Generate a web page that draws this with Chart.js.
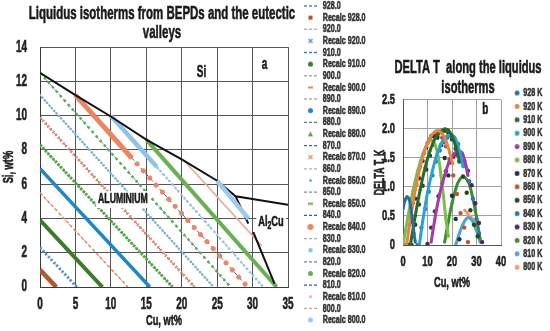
<!DOCTYPE html>
<html>
<head>
<meta charset="utf-8">
<script src="https://cdn.jsdelivr.net/npm/chart.js@4.4.1/dist/chart.umd.min.js"></script>
<style>
  html, body { margin: 0; padding: 0; background: #fff; }
  #wrap { position: relative; width: 550px; height: 331px; }
  #left { position: absolute; left: 0; top: 0; width: 372px; height: 331px; }
  #right { position: absolute; left: 372px; top: 0; width: 178px; height: 331px; }
</style>
</head>
<body>
<div id="wrap">
  <div id="left"><canvas id="isoChart"></canvas></div>
  <div id="right"><canvas id="deltaChart"></canvas></div>
</div>
<script>
const FONT = "'Liberation Sans', Arial, sans-serif";
Chart.defaults.font.family = FONT;
Chart.defaults.font.weight = 'bold';
Chart.defaults.color = '#222';
Chart.defaults.animation = false;

const temps = [928, 920, 910, 900, 890, 880, 870, 860, 850, 840, 830, 820, 810, 800];

// panel a: isotherms, [Cu wt%, Si wt%]
const isoLines = [
  [[0, 1.0], [2.3, 0]],
  [[0, 2.3], [5.2, 0]],
  [[0, 3.9], [8.8, 0]],
  [[0, 5.5], [12.4, 0]],
  [[0, 6.9], [15.5, 0]],
  [[0, 8.3], [18.7, 0]],
  [[0, 9.9], [21.8, 0]],
  [[0, 11.2], [24.5, 0]],
  [[0, 12.5], [26.9, 0]],
  [[5, 11.2], [12.8, 7.6], [29.3, 0]],
  [[10, 10], [16.5, 7.0], [31.5, 0]],
  [[15, 8.6], [33.4, 0]],
  [[20.3, 7.4], [31.3, 2.4]],
  [[25, 6.2], [29.4, 4.0]]
];

// eutectic valleys
const valleyMain = [[0, 12.5], [5, 11.2], [10, 9.95], [15, 8.6], [20, 7.45], [25, 6.2], [27.6, 5.3], [35, 4.8]];
const valleyUpper = [[27.6, 5.3], [29.4, 3.7]];
const valleyLower = [[30.1, 3.2], [33.1, 0.2]];

// panel b: delta T along each isotherm, [Cu wt%, K]
const dtCurves = [
  [[0, 0.62], [0.8, 0.77], [1.6, 0.83], [2.4, 0.8], [3.2, 0.64], [3.9, 0.42], [4.5, 0.2], [5, 0.05]],
  [[1.5, 0], [3, 0.45], [5, 0.95], [7, 1.35], [9, 1.65], [11, 1.85], [13, 1.95], [14.5, 1.97], [16, 1.92], [17.5, 1.8], [19, 1.6], [20.3, 1.4]],
  [[3, 0], [5, 0.5], [7, 0.95], [9, 1.33], [11, 1.62], [13, 1.83], [15, 1.95], [17, 2.0], [18.5, 1.98], [20, 1.88], [21.5, 1.7], [23, 1.45]],
  [[6.7, 0], [8, 0.4], [10, 0.9], [12, 1.28], [14, 1.58], [16, 1.78], [18, 1.88], [20, 1.9], [21.5, 1.82], [23, 1.62], [24.5, 1.35]],
  [[11.5, 0.05], [13, 0.45], [15, 0.88], [17, 1.2], [19, 1.45], [21, 1.58], [23, 1.62], [24.5, 1.55], [25.5, 1.4], [26.5, 1.2]],
  [[0, 0], [2, 0.48], [4, 0.92], [6, 1.28], [8, 1.56], [10, 1.74], [11.5, 1.8], [13, 1.74], [14.5, 1.5], [15.5, 1.2], [16.5, 0.85], [17.5, 0.45], [18.5, 0.15]],
  [[2, 0], [3.5, 0.4], [5, 0.8], [6.5, 1.15], [8, 1.45], [9.5, 1.68], [11, 1.82], [12.5, 1.88], [14, 1.85], [15.5, 1.72], [17, 1.5], [18.5, 1.2], [20, 0.85], [21.5, 0.45], [23, 0.1]],
  [[1, 0], [2.5, 0.35], [4, 0.72], [5.5, 1.05], [7, 1.35], [8.5, 1.58], [10, 1.76], [11.5, 1.88], [13, 1.93], [14.5, 1.92], [16, 1.85], [17.5, 1.7], [19, 1.48], [20.5, 1.2], [22, 0.88], [23.5, 0.55], [25, 0.3], [26.5, 0.05]],
  [[3.5, 0], [5, 0.35], [6.5, 0.7], [8, 1.02], [9.5, 1.3], [11, 1.54], [12.5, 1.73], [14, 1.87], [15.5, 1.95], [17, 1.97], [18.5, 1.93], [20, 1.82], [21.5, 1.66], [23, 1.44], [24.5, 1.18], [26, 0.9], [27.5, 0.6], [29, 0.35], [30.5, 0.15]],
  [[6, 0], [7.5, 0.3], [9, 0.62], [10.5, 0.92], [12, 1.2], [13.5, 1.44], [15, 1.63], [16.5, 1.77], [18, 1.85], [19.5, 1.88], [21, 1.84], [22.5, 1.74], [24, 1.58], [25.5, 1.36], [27, 1.1], [28.5, 0.8], [30, 0.45], [31, 0.2]],
  [[10, 0.02], [11.5, 0.3], [13, 0.58], [14.5, 0.84], [16, 1.07], [17.5, 1.27], [19, 1.42], [20.5, 1.52], [22, 1.56], [23.5, 1.54], [25, 1.45], [26.5, 1.28], [28, 1.03], [29.5, 0.72], [31, 0.38], [32.3, 0.05]],
  [[17, 0.05], [18.5, 0.4], [20, 0.72], [21.5, 0.96], [23, 1.12], [24.7, 1.17], [26.5, 1.1], [28, 0.9], [29.5, 0.6], [30.5, 0.35], [31.5, 0.1]],
  [[21.5, 0], [23, 0.2], [24.5, 0.36], [26, 0.46], [27.5, 0.46], [29, 0.35], [30.5, 0.18], [31.5, 0.05]],
  [[25.2, 0.6], [26.2, 0.55], [27.2, 0.5], [28.2, 0.46], [29.2, 0.42], [30, 0.4]]
];

// styles
const plainColors = ['#5a7fc6', '#c9b0ab', '#4a74bf', '#b4aaa8', '#aeaaa9', '#4f79c1', '#3f62ae', '#b8aeac', '#6a8ecf', '#3a56a6', '#a9a9a9', '#5b84c7', '#3853a3', '#b0aead'];
const recalcColors = ['#b5552c', '#4e93cf', '#3b7b2b', '#e9845c', '#1e87c7', '#55a83f', '#ea8866', '#6db1de', '#62aa48', '#ec8660', '#8dc2ea', '#68b052', '#f0ab9a', '#9ccaee'];
const recalcWidth = [4.5, 3, 4, 1.5, 3.5, 3, 3, 2.5, 2.5, 5, 2.5, 4, 1.6, 4.5];
const recalcDash = [[], [2, 2], [], [3, 2.5], [], [2.5, 1.2], [1.8, 2], [0.01, 3.5], [2.5, 3.5], [], [2, 2.5], [], [], []];
const recalcCap = ['butt', 'butt', 'butt', 'butt', 'butt', 'butt', 'butt', 'round', 'butt', 'butt', 'butt', 'butt', 'butt', 'butt'];
const recalcOrder = [1, 1, 1, 1, 1, 1, 1, 1, 1, 1, 1, 1, 1, -1];
const recalcMark = ['rect', 'cross', 'circle', 'dash', 'circle', 'triangle', 'cross', 'circle', 'dash', 'circle', 'rect', 'circle', 'circle', 'circle'];
const recalcMarkSize = [4, 4, 5, 5, 5, 5, 4, 3, 5, 6, 4, 5, 3, 5];
const dtColors = ['#2d6c97', '#e8843f', '#2a6a2c', '#29a2da', '#a43ca8', '#7bc046', '#1a3446', '#b95a2b', '#1e4b25', '#2c77b0', '#591e63', '#3f8d32', '#48a6dc', '#f19e6c'];
const dtDense = [true, true, true, true, true, true, false, false, false, false, false, true, true, true];

// the reference uses a heavy condensed face; squeeze canvas text horizontally and thicken it a little
const SQUEEZE = 0.62;
(function () {
  const proto = CanvasRenderingContext2D.prototype;
  const fill = proto.fillText, stroke = proto.strokeText, measure = proto.measureText;
  proto.fillText = function (text, x, y, maxWidth) {
    const k = this.canvas._squeeze || 1;
    if (k === 1) return maxWidth === undefined ? fill.call(this, text, x, y) : fill.call(this, text, x, y, maxWidth);
    this.save();
    this.translate(x, y);
    this.scale(k, 1);
    this.setLineDash([]);
    this.lineWidth = 0.6;
    this.lineJoin = 'round';
    this.strokeStyle = this.fillStyle;
    if (maxWidth === undefined) { fill.call(this, text, 0, 0); stroke.call(this, text, 0, 0); }
    else { fill.call(this, text, 0, 0, maxWidth / k); stroke.call(this, text, 0, 0, maxWidth / k); }
    this.restore();
  };
  proto.measureText = function (text) {
    const m = measure.call(this, text);
    const k = this.canvas._squeeze || 1;
    if (k === 1) return m;
    return {
      width: m.width * k,
      actualBoundingBoxLeft: m.actualBoundingBoxLeft * k,
      actualBoundingBoxRight: m.actualBoundingBoxRight * k,
      actualBoundingBoxAscent: m.actualBoundingBoxAscent,
      actualBoundingBoxDescent: m.actualBoundingBoxDescent
    };
  };
})();

function markIcon(shape, color, size) {
  const c = document.createElement('canvas');
  c.width = size + 2; c.height = size + 2;
  const g = c.getContext('2d');
  const m = (size + 2) / 2, r = size / 2;
  g.fillStyle = color; g.strokeStyle = color; g.lineWidth = 1.3;
  g.beginPath();
  if (shape === 'circle') { g.arc(m, m, r, 0, Math.PI * 2); g.fill(); }
  else if (shape === 'rect') { g.fillRect(m - r, m - r, size, size); }
  else if (shape === 'triangle') { g.moveTo(m, m - r); g.lineTo(m + r, m + r); g.lineTo(m - r, m + r); g.closePath(); g.fill(); }
  else if (shape === 'cross') { g.moveTo(m - r, m - r); g.lineTo(m + r, m + r); g.moveTo(m + r, m - r); g.lineTo(m - r, m + r); g.stroke(); }
  else if (shape === 'dash') { g.fillRect(m - r, m - 1, size, 2); }
  return c;
}

const toXY = arr => arr.map(([x, y]) => ({ x, y }));

// 840 and 830: dense near the valley, sparse further down
function segmentFor(i) {
  if (i === 9) return {
    borderDash: c => c.p0DataIndex > 0 ? [0.01, 9.5] : undefined,
    borderCapStyle: c => c.p0DataIndex > 0 ? 'round' : undefined
  };
  if (i === 10) return {
    borderDash: c => c.p0DataIndex === 0 ? [] : undefined,
    borderWidth: c => c.p0DataIndex === 0 ? 4.5 : undefined
  };
  return {};
}

const boxTweak = {
  id: 'boxTweak',
  beforeLayout(chart, args, opts) {
    const lg = chart.legend;
    if (lg && !lg._fixedWidth) {
      const fit = lg.fit;
      lg.fit = function () { fit.call(this); this.width = opts.legendWidth; };
      lg._fixedWidth = true;
    }
  },
  afterLayout(chart, args, opts) {
    const lg = chart.legend;
    lg.left += opts.legendDx;
    lg.right += opts.legendDx;
    lg.top = opts.legendTop;
    const tb = chart.titleBlock;
    tb.left += opts.titleDx;
    tb.right += opts.titleDx;
  }
};

const notesPlugin = {
  id: 'notes',
  afterDatasetsDraw(chart, args, opts) {
    const { ctx, scales } = chart;
    ctx.save();
    ctx.textBaseline = 'middle';
    ctx.textAlign = 'left';
    for (const n of opts.items) {
      const px = scales.x.getPixelForValue(n.x);
      const py = scales.y.getPixelForValue(n.y);
      const big = `bold ${n.size}px ${FONT}`;
      const small = `bold ${Math.round(n.size * 0.7)}px ${FONT}`;
      const widths = n.parts.map(p => { ctx.font = p.sub ? small : big; return ctx.measureText(p.t).width; });
      const total = widths.reduce((a, b) => a + b, 0);
      let cx = px - total / 2;
      if (n.bg) {
        ctx.fillStyle = '#fff';
        ctx.fillRect(cx - 2, py - n.size * 0.6, total + 4, n.size * 1.2);
      }
      ctx.fillStyle = '#1a1a1a';
      n.parts.forEach((p, k) => {
        ctx.font = p.sub ? small : big;
        ctx.fillText(p.t, cx, p.sub ? py + n.size * 0.3 : py);
        cx += widths[k];
      });
    }
    ctx.restore();
  }
};

// ---------- panel a ----------
const isoSets = [];
temps.forEach((t, i) => {
  isoSets.push({
    label: t.toFixed(1),
    data: toXY(isoLines[i]),
    showLine: true,
    borderColor: plainColors[i],
    borderWidth: 1,
    borderDash: [4, 3],
    pointRadius: 0,
    order: 2
  });
  isoSets.push({
    label: 'Recalc ' + t.toFixed(1),
    data: toXY(isoLines[i]),
    showLine: true,
    borderColor: recalcColors[i],
    backgroundColor: recalcColors[i],
    borderWidth: recalcWidth[i],
    borderDash: recalcDash[i],
    borderCapStyle: recalcCap[i],
    segment: segmentFor(i),
    pointRadius: 0,
    order: recalcOrder[i]
  });
});
[valleyMain, valleyUpper, valleyLower].forEach(v => {
  isoSets.push({ label: '', data: toXY(v), showLine: true, borderColor: '#111', borderWidth: 2, pointRadius: 0, order: 0 });
});

const isoCanvas = document.getElementById('isoChart');
isoCanvas._squeeze = SQUEEZE;
new Chart(isoCanvas, {
  type: 'scatter',
  data: { datasets: isoSets },
  plugins: [boxTweak, notesPlugin],
  options: {
    responsive: true,
    maintainAspectRatio: false,
    layout: { padding: 0 },
    scales: {
      x: {
        type: 'linear', min: 0, max: 35,
        ticks: { stepSize: 5, padding: 8.4, font: { size: 16 }, color: '#222' },
        grid: { color: '#555', drawTicks: false },
        border: { color: '#3a3a3a' },
        title: { display: true, text: 'Cu, wt%', font: { size: 15 }, padding: { top: 0, bottom: 1 }, color: '#222' },
        afterFit: s => { s.height = 44; }
      },
      y: {
        type: 'linear', min: 0, max: 14,
        ticks: { stepSize: 2, padding: 13, font: { size: 16 }, color: '#222' },
        grid: { color: '#555', drawTicks: false },
        border: { color: '#3a3a3a' },
        title: { display: true, text: 'Si, wt%', font: { size: 15 }, padding: { top: 0, bottom: 0 }, color: '#222' },
        afterFit: s => { s.width = 40; }
      }
    },
    plugins: {
      title: {
        display: true,
        text: ['Liquidus isotherms from BEPDs and the eutectic', 'valleys'],
        font: { size: 18.5, lineHeight: 1.03 },
        color: '#1a1a1a',
        padding: { top: 4.5, bottom: 4.5 }
      },
      legend: {
        position: 'right',
        align: 'start',
        labels: {
          usePointStyle: true,
          pointStyleWidth: 13,
          boxHeight: 4,
          padding: 0.13,
          font: { size: 11.5 },
          generateLabels: () => temps.flatMap((t, i) => [
            { text: t.toFixed(1), pointStyle: 'line', strokeStyle: plainColors[i], fillStyle: plainColors[i],
              lineWidth: 1.3, lineDash: [3, 2], datasetIndex: 2 * i, fontColor: '#333', hidden: false },
            { text: 'Recalc ' + t.toFixed(1), pointStyle: markIcon(recalcMark[i], recalcColors[i], recalcMarkSize[i]),
              strokeStyle: recalcColors[i], fillStyle: recalcColors[i], lineWidth: 1,
              datasetIndex: 2 * i + 1, fontColor: '#333', hidden: false }
          ])
        }
      },
      tooltip: { enabled: false },
      boxTweak: { legendWidth: 84, legendDx: 15.87, legendTop: 0.1, titleDx: -24 },
      notes: {
        items: [
          { x: 22.8, y: 12.5, size: 16, parts: [{ t: 'Si' }] },
          { x: 31.7, y: 13.0, size: 16, parts: [{ t: 'a' }] },
          { x: 11.7, y: 5.1, size: 14, bg: true, parts: [{ t: 'ALUMINIUM' }] },
          { x: 32.6, y: 3.8, size: 15, bg: true, parts: [{ t: 'Al' }, { t: '2', sub: true }, { t: 'Cu' }] }
        ]
      }
    }
  }
});

// ---------- panel b ----------
const dtCanvas = document.getElementById('deltaChart');
dtCanvas._squeeze = SQUEEZE;
new Chart(dtCanvas, {
  type: 'scatter',
  data: {
    datasets: temps.map((t, i) => ({
      label: t + ' K',
      data: toXY(dtCurves[i]),
      showLine: dtDense[i],
      backgroundColor: dtColors[i],
      borderColor: dtColors[i],
      borderWidth: 3,
      tension: 0.4,
      pointRadius: dtDense[i] ? 1.6 : 2.2,
      pointBorderWidth: 0
    }))
  },
  plugins: [boxTweak, notesPlugin],
  options: {
    responsive: true,
    maintainAspectRatio: false,
    layout: { padding: 0 },
    scales: {
      x: {
        type: 'linear', min: 0, max: 40,
        ticks: { stepSize: 10, padding: 8, font: { size: 15 }, color: '#222' },
        grid: { color: '#a0a0a0', drawTicks: false },
        border: { color: '#555' },
        title: { display: true, text: 'Cu, wt%', font: { size: 15 }, padding: { top: 0, bottom: 39 }, color: '#222' },
        afterFit: s => { s.height = 86; }
      },
      y: {
        type: 'linear', min: 0, max: 2.5,
        ticks: { stepSize: 0.5, padding: 8, font: { size: 15 }, color: '#222' },
        grid: { color: '#a0a0a0', drawTicks: false },
        border: { color: '#555' },
        title: { display: true, text: 'DELTA T, K', font: { size: 14 }, padding: { top: 0, bottom: 0 }, color: '#222' },
        afterFit: s => { s.width = 31; }
      }
    },
    plugins: {
      title: {
        display: true,
        text: ['DELTA T  along the liquidus', 'isotherms'],
        font: { size: 18, lineHeight: 1.11 },
        color: '#1a1a1a',
        padding: { top: 58, bottom: 2 }
      },
      legend: {
        position: 'right',
        align: 'start',
        labels: {
          usePointStyle: true,
          boxWidth: 1,
          boxHeight: 4,
          padding: 1.9,
          font: { size: 11.5 },
          generateLabels: () => temps.map((t, i) => ({
            text: t + ' K', pointStyle: markIcon('circle', dtColors[i], 5),
            fillStyle: dtColors[i], strokeStyle: dtColors[i], lineWidth: 0,
            datasetIndex: i, fontColor: '#333', hidden: false
          }))
        }
      },
      tooltip: { enabled: false },
      boxTweak: { legendWidth: 49, legendDx: 13.6, legendTop: 85.35, titleDx: 7 },
      notes: { items: [{ x: 33.6, y: 2.34, size: 16, parts: [{ t: 'b' }] }] }
    }
  }
});
</script>
</body>
</html>
